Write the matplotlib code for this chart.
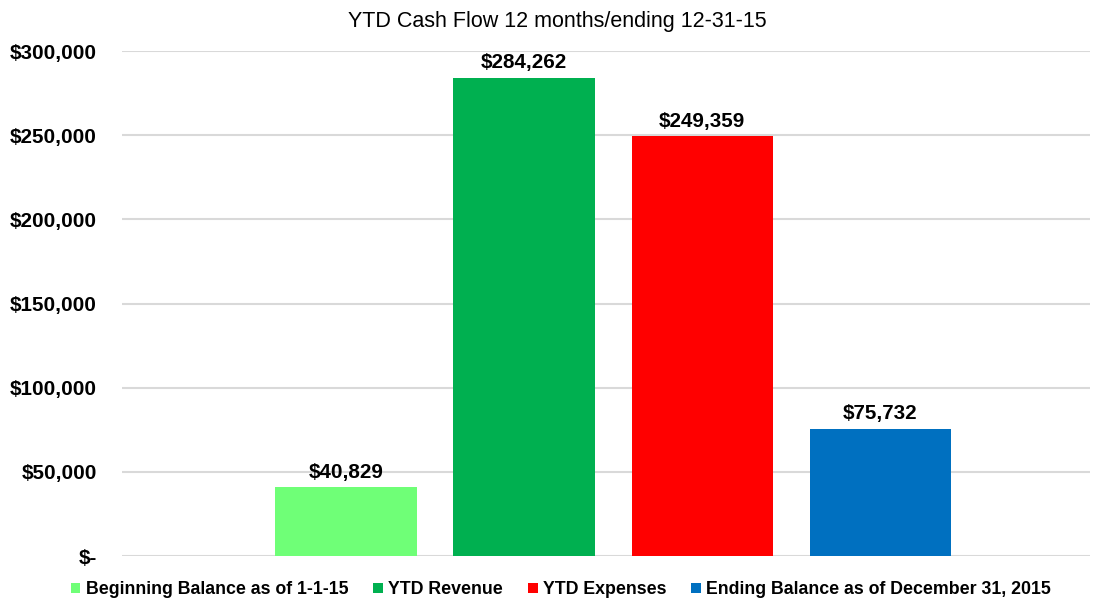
import matplotlib
matplotlib.use("Agg")
import matplotlib.pyplot as plt
from matplotlib.ticker import FuncFormatter

# chart data
series_names = ["Beginning Balance as of 1-1-15", "YTD Revenue", "YTD Expenses",
                "Ending Balance as of December 31, 2015"]
values = [40829, 284262, 249359, 75732]
colors = ["#6FFF77", "#00B050", "#FF0000", "#0070C0"]
y_ticks = [0, 50000, 100000, 150000, 200000, 250000, 300000]

plt.rcParams['font.family'] = ['Liberation Sans', 'DejaVu Sans']

fig = plt.figure(figsize=(11.02, 5.98), dpi=100)
ax = fig.add_axes([0.1107, 0.0702, 0.8783, 0.8445])

# one category, four series side by side
spacing = 0.184
bar_width = 0.146
for i in range(len(values)):
    x = 0.5075 + (i - 1.5) * spacing
    ax.bar(x, values[i], width=bar_width, color=colors[i], label=series_names[i], zorder=3)
    ax.text(x, values[i] + 3000, "${:,}".format(values[i]), ha='center', va='bottom',
            fontsize=14.9, fontweight='bold', zorder=4)

ax.set_xlim(0, 1)
ax.set_ylim(0, 300000)
ax.set_yticks(y_ticks)


def money(v, pos):
    if v == 0:
        return "$-"
    return "${:,.0f}".format(v)


ax.yaxis.set_major_formatter(FuncFormatter(money))
ax.set_xticks([])
ax.tick_params(axis='y', length=0, pad=18, labelsize=14.9)
for lbl in ax.get_yticklabels():
    lbl.set_fontweight('bold')

ax.grid(axis='y', color='#D9D9D9', linewidth=1.5, zorder=0)
for s in ax.spines.values():
    s.set_visible(False)

fig.text(0.506, 1 - 27 / 598, "YTD Cash Flow 12 months/ending 12-31-15", fontsize=15.5,
         ha='center', va='baseline')

ax.legend(loc='center', bbox_to_anchor=(0.4535, -0.067), ncol=4, frameon=False,
          prop={'weight': 'bold', 'size': 12.8}, handlelength=0.55, handleheight=0.55,
          handletextpad=0.3, columnspacing=1.4, borderpad=0, borderaxespad=0)

fig.savefig("out.png", dpi=100)
